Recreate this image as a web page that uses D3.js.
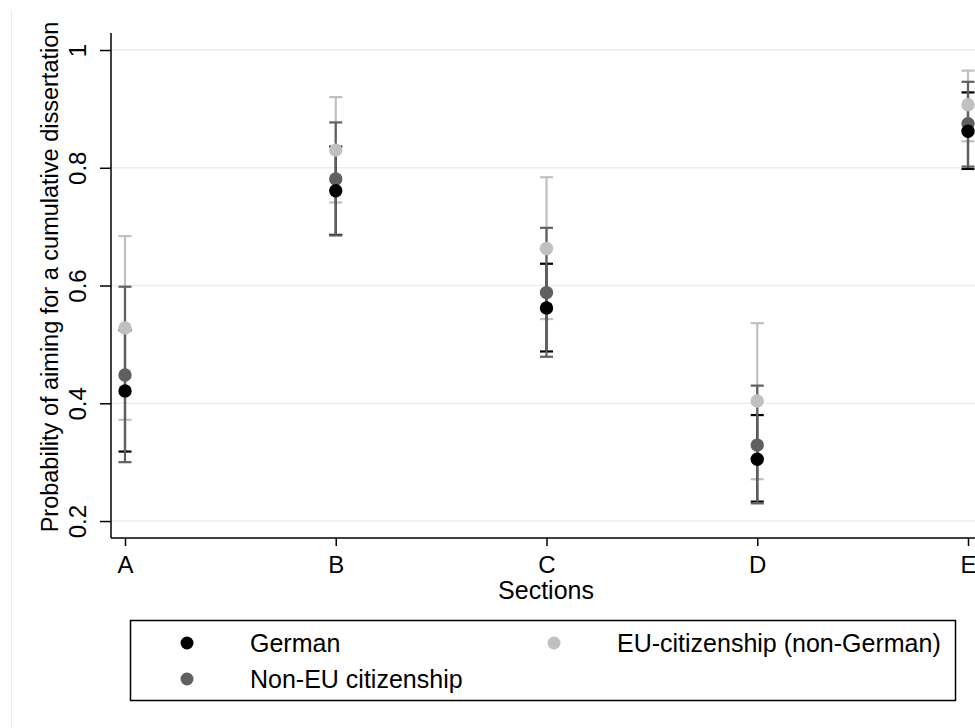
<!DOCTYPE html>
<html><head><meta charset="utf-8">
<script src="https://cdn.jsdelivr.net/npm/d3@7"></script>
<style>body{margin:0;background:#fff}svg{display:block}text{font-family:"Liberation Sans",Arial,sans-serif;fill:#000}</style>
</head><body>
<svg id="c" width="975" height="728"></svg>
<script>
const categories = ["A","B","C","D","E"];
const yTicks = [0.2,0.4,0.6,0.8,1];
const yTickLabels = ["0.2","0.4","0.6","0.8","1"];
const seriesNames = ["German","Non-EU citizenship","EU-citizenship (non-German)"];
// point estimates and confidence bounds
const germanEst = [0.421,0.761,0.562,0.305,0.862];
const germanLo  = [0.318,0.686,0.488,0.233,0.798];
const germanHi  = [0.524,0.836,0.637,0.380,0.928];
const nonEUEst  = [0.448,0.781,0.588,0.329,0.875];
const nonEULo   = [0.300,0.685,0.479,0.230,0.802];
const nonEUHi   = [0.598,0.877,0.698,0.430,0.946];
const euEst     = [0.528,0.830,0.663,0.404,0.907];
const euLo      = [0.372,0.741,0.543,0.271,0.845];
const euHi      = [0.684,0.920,0.784,0.536,0.965];

const colors = {"German":"#000000","Non-EU citizenship":"#606060","EU-citizenship (non-German)":"#c0c0c0"};
const series = [
  {name:"German", est:germanEst, lo:germanLo, hi:germanHi},
  {name:"Non-EU citizenship", est:nonEUEst, lo:nonEULo, hi:nonEUHi},
  {name:"EU-citizenship (non-German)", est:euEst, lo:euLo, hi:euHi}
];

const svg = d3.select("#c");
const L = 111, R = 975, T = 33, B = 538;
const x = d3.scalePoint().domain(categories).range([125, 968]);
const y = d3.scaleLinear().domain([0.1712, 1.0289]).range([B, T]);

// faint outer region line
svg.append("line").attr("x1",11.5).attr("x2",11.5).attr("y1",10).attr("y2",728).attr("stroke","#e6eef1").attr("stroke-width",1);

// gridlines
svg.append("g").selectAll("line").data(yTicks).join("line")
  .attr("x1",L).attr("x2",R).attr("y1",d=>y(d)).attr("y2",d=>y(d))
  .attr("stroke","#e8eff2").attr("stroke-width",1.5);

// axes
const yAxis = d3.axisLeft(y).tickValues(yTicks).tickSize(11).tickFormat((d,i)=>yTickLabels[i]);
const gy = svg.append("g").attr("transform",`translate(${L},0)`).call(yAxis);
gy.select(".domain").attr("d",`M0,${T}V${B}`).attr("stroke","#000").attr("stroke-width",1.5);
gy.selectAll(".tick line").attr("stroke","#000").attr("stroke-width",1.5);
gy.selectAll(".tick text").attr("x",0).attr("y",0).attr("dy",null)
  .attr("transform","translate(-25,0) rotate(-90)").attr("text-anchor","middle")
  .style("font-size","24px").style("font-family",'"Liberation Sans",Arial,sans-serif');

const xAxis = d3.axisBottom(x).tickSize(8).tickSizeOuter(0);
const gx = svg.append("g").attr("transform",`translate(0,${B})`).call(xAxis);
gx.select(".domain").attr("d",`M${L},0H${R}`).attr("stroke","#000").attr("stroke-width",1.5);
gx.selectAll(".tick line").attr("stroke","#000").attr("stroke-width",1.5);
gx.selectAll(".tick text").attr("y",35).attr("dy",null)
  .style("font-size","24px").style("font-family",'"Liberation Sans",Arial,sans-serif');

// axis titles
svg.append("text").attr("x",546).attr("y",599).attr("text-anchor","middle").style("font-size","25px").text("Sections");
svg.append("text").attr("transform","translate(58,277) rotate(-90)").attr("text-anchor","middle").style("font-size","23.5px")
  .text("Probability of aiming for a cumulative dissertation");

// error bars: order light, black, dark
const barOrder = [series[2], series[0], series[1]];
const capW = 6.5;
barOrder.forEach(s=>{
  const g = svg.append("g").attr("stroke",colors[s.name]).attr("stroke-width",2.2);
  categories.forEach((c,i)=>{
    g.append("line").attr("x1",x(c)).attr("x2",x(c)).attr("y1",y(s.lo[i])).attr("y2",y(s.hi[i]));
    g.append("line").attr("x1",x(c)-capW).attr("x2",x(c)+capW).attr("y1",y(s.lo[i])).attr("y2",y(s.lo[i]));
    g.append("line").attr("x1",x(c)-capW).attr("x2",x(c)+capW).attr("y1",y(s.hi[i])).attr("y2",y(s.hi[i]));
  });
});
// points: dark, black, light
const ptOrder = [series[1], series[0], series[2]];
ptOrder.forEach(s=>{
  svg.append("g").selectAll("circle").data(categories).join("circle")
    .attr("cx",c=>x(c)).attr("cy",(c,i)=>y(s.est[i])).attr("r",6.7).attr("fill",colors[s.name]);
});

// legend
svg.append("rect").attr("x",130.5).attr("y",620.5).attr("width",825).attr("height",80).attr("fill","#fff").attr("stroke","#000").attr("stroke-width",1.5);
const legendItems = [
  {name:seriesNames[0], mx:187, my:643},
  {name:seriesNames[2], mx:554, my:643},
  {name:seriesNames[1], mx:187, my:679}
];
legendItems.forEach(it=>{
  svg.append("circle").attr("cx",it.mx).attr("cy",it.my).attr("r",6.5).attr("fill",colors[it.name]);
  svg.append("text").attr("x",it.mx+63).attr("y",it.my+9).style("font-size","25px").text(it.name);
});
</script>
</body></html>
